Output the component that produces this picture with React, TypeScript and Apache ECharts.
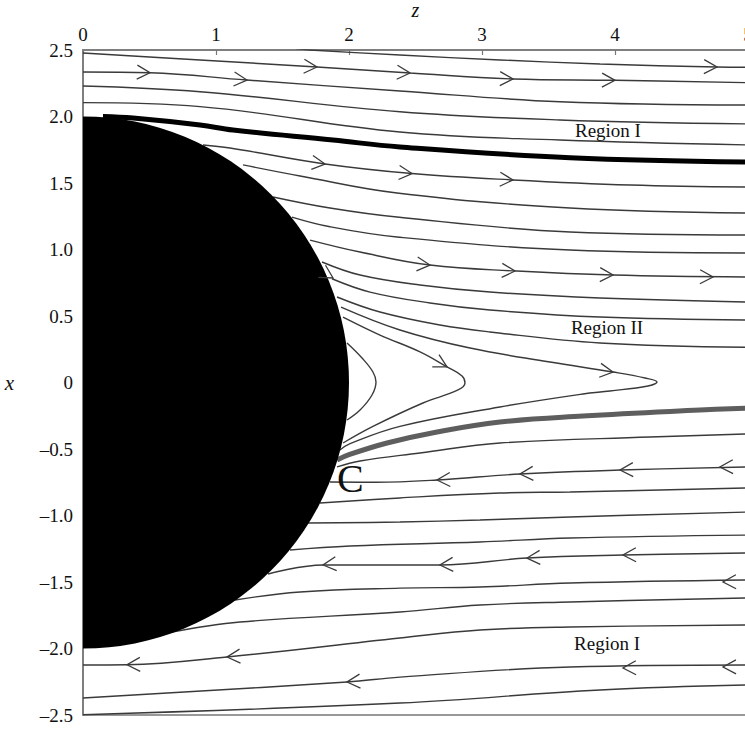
import { useEffect, useRef } from "react";
import * as echarts from "echarts";

// ---------- data ----------
const X_TICK_LABELS = ["0", "1", "2", "3", "4", "5"];
const Y_TICK_LABELS = ["–2.5", "–2.0", "–1.5", "–1.0", "–0.5", "0", "0.5", "1.0", "1.5", "2.0", "2.5"];
const DISK = [[0, 0, 2]]; // centre z, centre x, radius

// Region I (upper), flowing to +z
const T_LINE = [[1.6, 2.51], [1.707, 2.5], [2.383, 2.462], [3.135, 2.425], [3.887, 2.395], [4.767, 2.372], [5, 2.37]];
const U1 = [[0, 2.477], [0.88, 2.425], [1.759, 2.372], [2.459, 2.327], [3.233, 2.282], [4.0, 2.272], [5, 2.254]];
const U2 = [[0, 2.335], [0.504, 2.329], [1.233, 2.274], [2.383, 2.192], [3.586, 2.111], [5, 2.086]];
const U3 = [[0, 2.229], [0.88, 2.186], [2.383, 2.036], [3.586, 1.974], [5, 1.944]];
const U4 = [[0, 2.104], [0.88, 2.074], [2.383, 1.883], [3.586, 1.823], [5, 1.786]];
const THICK_BLACK = [[0.15, 2.0], [0.376, 1.988], [0.88, 1.936], [1.128, 1.898], [1.88, 1.823], [2.383, 1.771], [3.662, 1.69], [5, 1.658]];
const L6 = [[0.902, 1.786], [1.105, 1.763], [1.82, 1.643], [2.474, 1.571], [3.233, 1.523], [4.113, 1.485], [5, 1.47]];
const L7 = [[1.203, 1.636], [1.632, 1.553], [2.361, 1.425], [3.662, 1.312], [5, 1.274]];
const L8 = [[1.429, 1.395], [1.857, 1.312], [2.361, 1.244], [3.662, 1.132], [5, 1.109]];
const L9 = [[1.571, 1.244], [1.857, 1.171], [2.361, 1.094], [3.662, 0.996], [5, 0.974]];
const L10 = [[1.707, 1.071], [2.083, 0.981], [2.609, 0.883], [3.263, 0.838], [3.985, 0.808], [5, 0.793]];
const L11 = [[1.797, 0.906], [2.083, 0.808], [2.534, 0.733], [3.06, 0.68], [3.887, 0.635], [5, 0.605]];
const L12 = [[1.872, 0.78], [2.158, 0.68], [2.609, 0.598], [3.06, 0.545], [3.887, 0.492], [5, 0.47]];
const L13 = [[1.91, 0.643], [2.233, 0.53], [2.684, 0.432], [3.06, 0.38], [3.887, 0.297], [5, 0.265]];

// Region II: closed loops returning to the sphere
const H3 = [[1.94, 0.567], [2.383, 0.395], [2.91, 0.259], [3.511, 0.154], [3.985, 0.079], [4.226, 0.034], [4.316, 0.004],
  [4.248, -0.026], [3.962, -0.064], [3.759, -0.086], [3.135, -0.184], [2.383, -0.33], [2.008, -0.46], [1.932, -0.508]];
const H2 = [[1.955, 0.492], [2.233, 0.357], [2.534, 0.23], [2.737, 0.117], [2.85, 0.049], [2.872, -0.004], [2.82, -0.056],
  [2.556, -0.154], [2.18, -0.33], [1.955, -0.455]];
const H1 = [[1.985, 0.297], [2.098, 0.184], [2.18, 0.079], [2.203, 0.004], [2.173, -0.094], [2.083, -0.207], [1.985, -0.282]];
const THICK_GRAY = [[1.91, -0.583], [2.0, -0.543], [2.286, -0.455], [2.662, -0.372], [3.135, -0.297], [3.759, -0.252], [4.639, -0.207], [5, -0.192]];

// Region I (lower), flowing to -z
const D1 = [[1.91, -0.635], [2.083, -0.59], [2.534, -0.53], [3.135, -0.455], [4.263, -0.41], [5, -0.387]];
const D2 = [[1.857, -0.748], [2.2, -0.75], [2.662, -0.733], [3.286, -0.688], [4.038, -0.658], [5, -0.635]];
const D3 = [[1.782, -0.906], [2.383, -0.868], [3.135, -0.831], [3.662, -0.823], [5, -0.793]];
const D4 = [[1.692, -1.056], [2.383, -1.049], [2.985, -1.034], [3.662, -1.011], [5, -0.974]];
const D5 = [[1.556, -1.259], [2.008, -1.229], [2.985, -1.199], [3.662, -1.169], [5, -1.147]];
const D6 = [[1.391, -1.44], [1.805, -1.372], [2.684, -1.372], [3.338, -1.32], [4.06, -1.297], [5, -1.282]];
const D7 = [[1.143, -1.635], [1.632, -1.575], [2.383, -1.546], [2.985, -1.538], [3.662, -1.508], [5, -1.485]];
const D8 = [[0.669, -1.876], [1.18, -1.801], [2.383, -1.726], [2.985, -1.673], [3.662, -1.65], [5, -1.62]];
const D9 = [[0, -2.124], [0.331, -2.122], [1.083, -2.064], [2.383, -1.921], [2.985, -1.861], [3.662, -1.838], [5, -1.823]];
const D10 = [[0, -2.372], [1.985, -2.252], [2.383, -2.215], [3.662, -2.139], [5, -2.124]];
const D11 = [[0, -2.498], [2.383, -2.41], [3.887, -2.312], [5, -2.274]];

const THIN_LINES = [T_LINE, U1, U2, U3, U4, L6, L7, L8, L9, L10, L11, L12, L13, H3, H2, H1,
  D1, D2, D3, D4, D5, D6, D7, D8, D9, D10, D11];

// arrow heads: tip z, tip x, direction dz, dx
const ARROWS = [
  [4.767, 2.372, 1, -0.026],
  [1.759, 2.372, 1, -0.06], [2.459, 2.327, 1, -0.06], [3.233, 2.282, 1, -0.03], [4.0, 2.272, 1, -0.02],
  [0.504, 2.329, 1, -0.05], [1.233, 2.274, 1, -0.08],
  [1.82, 1.643, 1, -0.12], [2.474, 1.571, 1, -0.08], [3.233, 1.523, 1, -0.05],
  [2.609, 0.883, 1, -0.09], [3.248, 0.838, 1, -0.05], [3.985, 0.808, 1, -0.03], [4.737, 0.793, 1, -0.02],
  [1.88, 0.786, 1, -0.6],
  [2.737, 0.117, 1, -0.55],
  [3.985, 0.079, 1, -0.13],
  [2.662, -0.733, -1, -0.04], [3.286, -0.688, -1, -0.05], [4.038, -0.658, -1, -0.03], [4.789, -0.635, -1, -0.02],
  [1.805, -1.372, -1, -0.1],
  [2.684, -1.372, -1, -0.05], [3.338, -1.32, -1, -0.05], [4.06, -1.297, -1, -0.02],
  [4.812, -1.5, -1, -0.02],
  [0.331, -2.122, -1, -0.03], [1.083, -2.064, -1, -0.07],
  [1.985, -2.252, -1, -0.07], [4.06, -2.147, -1, -0.02], [4.812, -2.139, -1, -0.01],
];

const ANNOTATION_TEXTS = ["Region I", "Region II", "Region I", "C"];
const ANNOTATION_POS = [[3.947, 1.898], [3.94, 0.415], [3.94, -1.959], [2.01, -0.72]];

// ---------- chart ----------
const SERIF = "'Liberation Serif', 'Times New Roman', serif";
const LINE_COLOR = "#3a3a3a";

export default function App() {
  const ref = useRef<HTMLDivElement>(null);

  useEffect(() => {
    if (!ref.current) return;
    const chart = echarts.init(ref.current, null, { renderer: "svg" });

    const lineSeries: any[] = THIN_LINES.map((d) => ({
      type: "line",
      data: d,
      smooth: 0.4,
      symbol: "none",
      silent: true,
      z: 2,
      lineStyle: { color: LINE_COLOR, width: 1.4 },
    }));
    lineSeries.push({
      type: "line", data: THICK_BLACK, smooth: 0.4, symbol: "none", silent: true, z: 2,
      lineStyle: { color: "#000", width: 5 },
    });
    lineSeries.push({
      type: "line", data: THICK_GRAY, smooth: 0.4, symbol: "none", silent: true, z: 2,
      lineStyle: { color: "#5e5e5e", width: 5 },
    });

    const option: any = {
      animation: false,
      backgroundColor: "#fff",
      grid: {
        left: 83, top: 50, right: -3, bottom: 14, containLabel: false, outerBoundsMode: "none",
        show: true, borderColor: "#777", borderWidth: 1.5, backgroundColor: "transparent",
      },
      xAxis: {
        type: "value", position: "top", min: 0, max: 5, interval: 1,
        axisLine: { show: true, onZero: false, lineStyle: { color: "#777", width: 1.5 } },
        axisTick: { show: true, inside: true, length: 5, lineStyle: { color: "#777", width: 1.2 } },
        axisLabel: { formatter: (v: number) => X_TICK_LABELS[Math.round(v)], fontFamily: SERIF, fontSize: 19, color: "#111", margin: 6 },
        splitLine: { show: false },
        name: "z", nameLocation: "middle", nameGap: 28,
        nameTextStyle: { fontFamily: SERIF, fontStyle: "italic", fontSize: 20, color: "#111" },
      },
      yAxis: {
        type: "value", min: -2.5, max: 2.5, interval: 0.5,
        axisLine: { show: true, onZero: false, lineStyle: { color: "#777", width: 1.5 } },
        axisTick: { show: false },
        axisLabel: { formatter: (v: number) => Y_TICK_LABELS[Math.round((v + 2.5) / 0.5)], fontFamily: SERIF, fontSize: 19, color: "#111", margin: 10 },
        splitLine: { show: false },
        name: "x", nameLocation: "middle", nameGap: 69, nameRotate: 0,
        nameTextStyle: { fontFamily: SERIF, fontStyle: "italic", fontSize: 21, color: "#111" },
      },
      series: [
        ...lineSeries,
        {
          type: "custom", silent: true, z: 3, clip: true,
          data: DISK,
          encode: { x: 0, y: 1 },
          renderItem: (_p: any, api: any) => {
            const c = api.coord([api.value(0), api.value(1)]);
            const r = api.size([api.value(2), 0])[0];
            return {
              type: "sector",
              shape: { cx: c[0], cy: c[1], r, r0: 0, startAngle: -Math.PI / 2, endAngle: Math.PI / 2, clockwise: true },
              style: { fill: "#000" },
            };
          },
        },
        {
          type: "custom", silent: true, z: 4,
          data: ARROWS,
          encode: { x: 0, y: 1 },
          renderItem: (_p: any, api: any) => {
            const z = api.value(0), x = api.value(1), dz = api.value(2), dx = api.value(3);
            const p = api.coord([z, x]);
            const q = api.coord([z + dz * 0.1, x + dx * 0.1]);
            const a = Math.atan2(q[1] - p[1], q[0] - p[0]);
            const L = 13, W = 7;
            const bx = p[0] - L * Math.cos(a), by = p[1] - L * Math.sin(a);
            const nx = -Math.sin(a) * W, ny = Math.cos(a) * W;
            return {
              type: "polyline",
              shape: { points: [[bx + nx, by + ny], [p[0], p[1]], [bx - nx, by - ny]] },
              style: { stroke: LINE_COLOR, fill: "none", lineWidth: 1.3 },
            };
          },
        },
        {
          type: "custom", silent: true, z: 5,
          data: ANNOTATION_POS,
          encode: { x: 0, y: 1 },
          renderItem: (p: any, api: any) => {
            const pt = api.coord([api.value(0), api.value(1)]);
            const text = ANNOTATION_TEXTS[p.dataIndex];
            const big = text === "C";
            return {
              type: "text",
              x: pt[0], y: pt[1],
              style: {
                text, fill: "#111", fontFamily: SERIF, fontSize: big ? 40 : 19,
                align: "center", verticalAlign: "middle",
              },
            };
          },
        },
      ],
    };
    chart.setOption(option);
    return () => chart.dispose();
  }, []);

  return <div ref={ref} style={{ position: "fixed", left: 0, top: 0, width: 745, height: 729 }} />;
}
